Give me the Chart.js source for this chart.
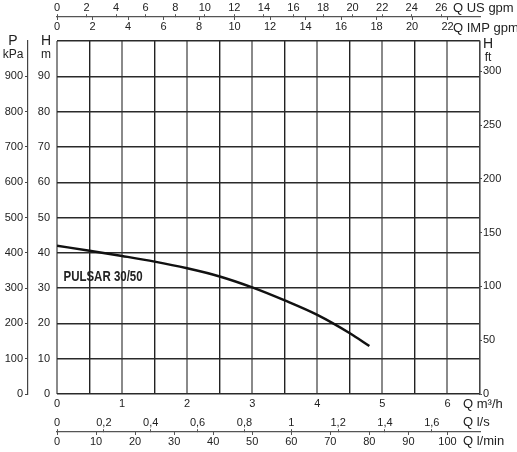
<!DOCTYPE html>
<html>
<head>
<meta charset="utf-8">
<script src="https://cdn.jsdelivr.net/npm/chart.js@4"></script>
<style>
  html, body { margin: 0; padding: 0; background: #fff; }
  #wrap { width: 517px; height: 452px; position: relative; }
</style>
</head>
<body>
<div id="wrap"><canvas id="pump"></canvas></div>
<script>
// curve (Q in m3/h, H in m)
const flowM3h = [0, 0.5, 1, 1.5, 2, 2.5, 3, 3.5, 4, 4.5, 4.8];
const headM   = [42, 40.6, 39.1, 37.5, 35.6, 33.3, 30.2, 26.5, 22.4, 17.2, 13.6];

const curveName = "PULSAR 30/50";

// axis ranges
const qMax = 6.5;      // m3/h
const hMax = 100;      // m
const pMax = 1000;     // kPa (drawn level with H)

// last labelled tick on each secondary axis
const usLast = 26, impLast = 22, lsLast = 1.6, lminLast = 100, ftLast = 300;

// unit factors from m3/h and m
const toUSgpm = 4.4029;
const toIMPgpm = 3.6662;
const toLs = 1 / 3.6;
const toLmin = 1000 / 60;
const toFt = 3.2808;

const ink = "#222";
const tickFont = { family: "'Liberation Sans', Arial, sans-serif", size: 11 };

// pixel of the shared top / bottom secondary axis lines, as H values
const topLineH = 106.8;
const bottomLineH = -10.76;

function commaNum(v) {
  const r = Math.round(v * 10) / 10;
  return String(r).replace(".", ",");
}

function keepNice(step, last) {
  return function (scale) {
    scale.ticks = scale.ticks.filter(t =>
      Math.abs(t.value / step - Math.round(t.value / step)) < 1e-6 && t.value <= last + 1e-6);
  };
}

const titles = {
  id: "titles",
  afterDraw(chart) {
    const c = chart.ctx;
    c.save();
    c.fillStyle = ink;
    c.textBaseline = "middle";
    c.textAlign = "left";
    c.font = "13px 'Liberation Sans', Arial, sans-serif";
    c.fillText("Q US gpm", 453, 8);
    c.fillText("Q IMP gpm", 453, 28);
    c.fillText("Q m\u00b3/h", 463, 404);
    c.fillText("Q l/s", 463, 422);
    c.fillText("Q l/min", 463, 441);

    c.textAlign = "center";
    c.font = "14px 'Liberation Sans', Arial, sans-serif";
    c.fillText("P", 13, 41);
    c.fillText("H", 46, 41);
    c.fillText("H", 488, 44);
    c.font = "12px 'Liberation Sans', Arial, sans-serif";
    c.fillText("kPa", 13, 55);
    c.fillText("m", 46, 55);
    c.fillText("ft", 488, 58);

    // curve name, narrowed like the original
    const xs = chart.scales.x, ys = chart.scales.y;
    const px = xs.getPixelForValue(0.1), py = ys.getPixelForValue(33.1);
    c.translate(px, py);
    c.scale(0.82, 1);
    c.textAlign = "left";
    c.font = "bold 14px 'Liberation Sans', Arial, sans-serif";
    c.fillText(curveName, 0, 0);
    c.restore();
  }
};

new Chart(document.getElementById("pump"), {
  type: "line",
  data: {
    datasets: [{
      data: flowM3h.map((q, i) => ({ x: q, y: headM[i] })),
      borderColor: "#111",
      borderWidth: 2.5,
      pointRadius: 0,
      fill: false,
      cubicInterpolationMode: "monotone",
      xAxisID: "x",
      yAxisID: "y"
    }]
  },
  options: {
    responsive: true,
    maintainAspectRatio: false,
    animation: false,
    layout: { padding: { top: 41, bottom: 38, left: 0, right: 0 } },
    plugins: { legend: { display: false }, tooltip: { enabled: false } },
    scales: {
      x: {
        type: "linear", position: "bottom", min: 0, max: qMax,
        afterFit(s) { s.height = 20; },
        border: { display: false },
        grid: {
          drawTicks: false,
          color: ctx => (ctx.tick && ctx.tick.value % 1 === 0) ? "#8a8a8a" : "#222",
          lineWidth: ctx => (ctx.tick && ctx.tick.value % 1 === 0) ? 2 : 1.4
        },
        ticks: {
          stepSize: 0.5, padding: 3, color: ink, font: tickFont, maxRotation: 0, autoSkip: false,
          callback: v => (v % 1 === 0 ? String(v) : "")
        }
      },
      y: {
        type: "linear", position: "left", weight: 1, min: 0, max: hMax,
        afterFit(s) { s.width = 29; },
        border: { display: false },
        grid: { drawTicks: false, color: "#2a2a2a", lineWidth: 1.4 },
        ticks: {
          stepSize: 10, padding: 7, color: ink, font: tickFont,
          callback: v => (v < hMax ? String(v) : "")
        }
      },
      yP: {
        type: "linear", position: "left", weight: 2, min: 0, max: pMax,
        afterFit(s) { s.width = 28; },
        afterBuildTicks: s => { s.ticks = s.ticks.filter(t => t.value < pMax); },
        border: { display: true, color: "#444", width: 1.2 },
        grid: { drawOnChartArea: false, tickLength: 3, color: "#444" },
        ticks: { stepSize: 100, padding: 2, color: ink, font: tickFont }
      },
      yFt: {
        type: "linear", position: "right", min: 0, max: hMax * toFt,
        afterFit(s) { s.width = 37; },
        afterBuildTicks: keepNice(50, ftLast),
        border: { display: true, color: "#444", width: 1.2 },
        grid: { drawOnChartArea: false, tickLength: 2, color: "#444" },
        ticks: { stepSize: 50, padding: 1, color: ink, font: tickFont, includeBounds: false }
      },
      xUS: {
        type: "linear", position: { y: topLineH }, min: 0, max: qMax * toUSgpm,
        afterBuildTicks: keepNice(2, usLast),
        border: { display: true, color: "#555", width: 1.2 },
        grid: { drawOnChartArea: false, tickLength: -3, color: "#555" },
        ticks: { stepSize: 2, padding: -13, color: ink, font: tickFont, maxRotation: 0, autoSkip: false, includeBounds: false }
      },
      xIMP: {
        type: "linear", position: { y: topLineH }, min: 0, max: qMax * toIMPgpm,
        afterBuildTicks: keepNice(2, impLast),
        border: { display: false },
        grid: { drawOnChartArea: false, tickLength: 3, color: "#555" },
        ticks: { stepSize: 2, padding: 0, color: ink, font: tickFont, maxRotation: 0, autoSkip: false, includeBounds: false }
      },
      xLs: {
        type: "linear", position: { y: bottomLineH }, min: 0, max: qMax * toLs,
        afterBuildTicks: keepNice(0.2, lsLast),
        border: { display: true, color: "#555", width: 1.2 },
        grid: { drawOnChartArea: false, tickLength: -3, color: "#555" },
        ticks: { stepSize: 0.2, padding: -13, color: ink, font: tickFont, maxRotation: 0, autoSkip: false, includeBounds: false, callback: v => commaNum(v) }
      },
      xLmin: {
        type: "linear", position: { y: bottomLineH }, min: 0, max: qMax * toLmin,
        afterBuildTicks: keepNice(10, lminLast),
        border: { display: false },
        grid: { drawOnChartArea: false, tickLength: 3, color: "#555" },
        ticks: { stepSize: 10, padding: 0, color: ink, font: tickFont, maxRotation: 0, autoSkip: false, includeBounds: false }
      }
    }
  },
  plugins: [titles]
});
</script>
</body>
</html>
